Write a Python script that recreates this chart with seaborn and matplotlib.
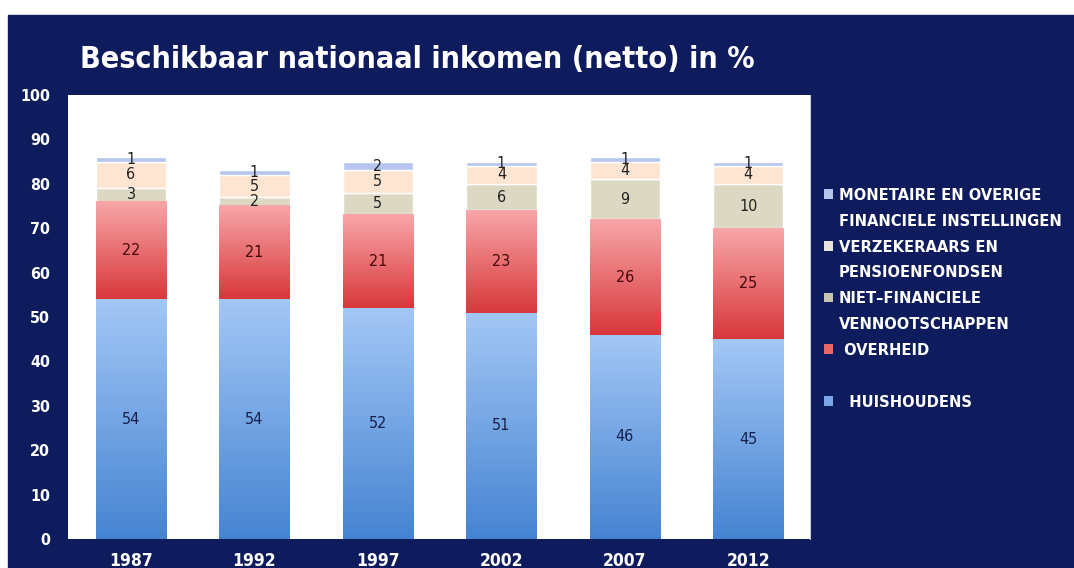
import numpy as np
import matplotlib
matplotlib.use("Agg")
import matplotlib.pyplot as plt
from matplotlib.patches import Patch, Rectangle
from matplotlib.colors import LinearSegmentedColormap
from matplotlib.font_manager import FontProperties
import seaborn as sns

years = ["1987", "1992", "1997", "2002", "2007", "2012"]
huishoudens = [54, 54, 52, 51, 46, 45]
overheid = [22, 21, 21, 23, 26, 25]
niet_financiele = [3, 2, 5, 6, 9, 10]
verzekeraars = [6, 5, 5, 4, 4, 4]
monetaire = [1, 1, 2, 1, 1, 1]

navy = "#0e1b5c"

sns.set_style("white")
plt.rcParams["font.family"] = ["DejaVu Sans"]
plt.rcParams["font.stretch"] = "condensed"

fig = plt.figure(figsize=(10.74, 5.68), dpi=100)
fig.patch.set_facecolor("white")
fig.add_artist(Rectangle((8 / 1074, 0), 1, 1 - 15 / 568, transform=fig.transFigure,
                         color=navy, zorder=-10))
ax = fig.add_axes([68 / 1074, 29 / 568, 742 / 1074, 444 / 568])
ax.set_facecolor("white")
renderer = fig.canvas.get_renderer()


def size_for_width(text, target_px, weight="bold", start=20):
    # font size that makes `text` about target_px wide
    t = fig.text(0, 0, text, fontsize=start, fontweight=weight, fontstretch="condensed")
    w = t.get_window_extent(renderer).width
    t.remove()
    return start * target_px / w


# series: values, flat colour, gradient (top, bottom) or None, label colour
series = [
    (huishoudens, "#7aa8e6", ("#a3c7f6", "#4684d2"), "#15204a"),
    (overheid, "#e8686a", ("#f8a6a8", "#d8383b"), "#45080c"),
    (niet_financiele, "#dcd8c3", None, "#222222"),
    (verzekeraars, "#fde5d1", None, "#222222"),
    (monetaire, "#b6c5ee", None, "#222222"),
]

bottom = np.zeros(len(years))
for vals, col, grad, lblcol in series:
    n_before = len(ax.patches)
    sns.barplot(x=years, y=vals, order=years, bottom=bottom, color=col,
                width=0.57, errorbar=None, saturation=1, ax=ax, zorder=2)
    ax.bar_label(ax.containers[-1], label_type="center", fontsize=11.5,
                 color=lblcol)
    if grad is not None:
        cmap = LinearSegmentedColormap.from_list("g", [grad[1], grad[0]])
        g = np.linspace(0, 1, 100).reshape(-1, 1)
        for p in ax.patches[n_before:]:
            x0, y0 = p.get_x(), p.get_y()
            w, h = p.get_width(), p.get_height()
            ax.imshow(g, extent=[x0, x0 + w, y0, y0 + h], origin="lower",
                      cmap=cmap, aspect="auto", clip_path=p, zorder=2.5)
    bottom = bottom + np.array(vals)

for t in ax.texts:
    t.set_zorder(5)

ax.set_xlim(-0.51, 5.5)
ax.set_ylim(0, 100)
ax.set_yticks(range(0, 101, 10))
ax.tick_params(axis="both", length=0, colors="white")
ax.tick_params(axis="y", pad=13, labelsize=11.5)
ax.tick_params(axis="x", pad=9, labelsize=12.5)
for lab in ax.get_xticklabels() + ax.get_yticklabels():
    lab.set_fontweight("bold")
ax.set_xlabel("")
ax.set_ylabel("")
for s in ax.spines.values():
    s.set_visible(False)
ax.spines["right"].set_visible(True)
ax.spines["right"].set_color("#c8c8d0")

title = "Beschikbaar nationaal inkomen (netto) in %"
fig.text(80 / 1074, 1 - 60 / 568, title, color="white",
         fontsize=size_for_width(title, 677), fontweight="bold",
         va="center", ha="left")

blank = Patch(facecolor="none", edgecolor="none")
handles = [
    Patch(facecolor="#b6c5ee", edgecolor="none"), blank,
    Patch(facecolor="#e8e4dc", edgecolor="none"), blank,
    Patch(facecolor="#c8c4b4", edgecolor="none"), blank,
    Patch(facecolor="#e8686a", edgecolor="none"), blank,
    Patch(facecolor="#7aa8e6", edgecolor="none"),
]
labels = [
    "MONETAIRE EN OVERIGE", "FINANCIELE INSTELLINGEN",
    "VERZEKERAARS EN", "PENSIOENFONDSEN",
    "NIET\u2013FINANCIELE", "VENNOOTSCHAPPEN",
    " OVERHEID", "",
    "  HUISHOUDENS",
]
leg_size = size_for_width("FINANCIELE INSTELLINGEN", 222)
leg = fig.legend(handles, labels, loc="upper left",
                 bbox_to_anchor=(824 / 1074, 1 - 188 / 568),
                 frameon=False, labelcolor="white", handlelength=0.55,
                 handleheight=0.55, handletextpad=0.35, labelspacing=0.66,
                 borderpad=0, borderaxespad=0,
                 prop=FontProperties(family="DejaVu Sans", weight="bold",
                                     stretch="condensed", size=leg_size))

fig.savefig("out.png", dpi=100, facecolor=fig.get_facecolor())
